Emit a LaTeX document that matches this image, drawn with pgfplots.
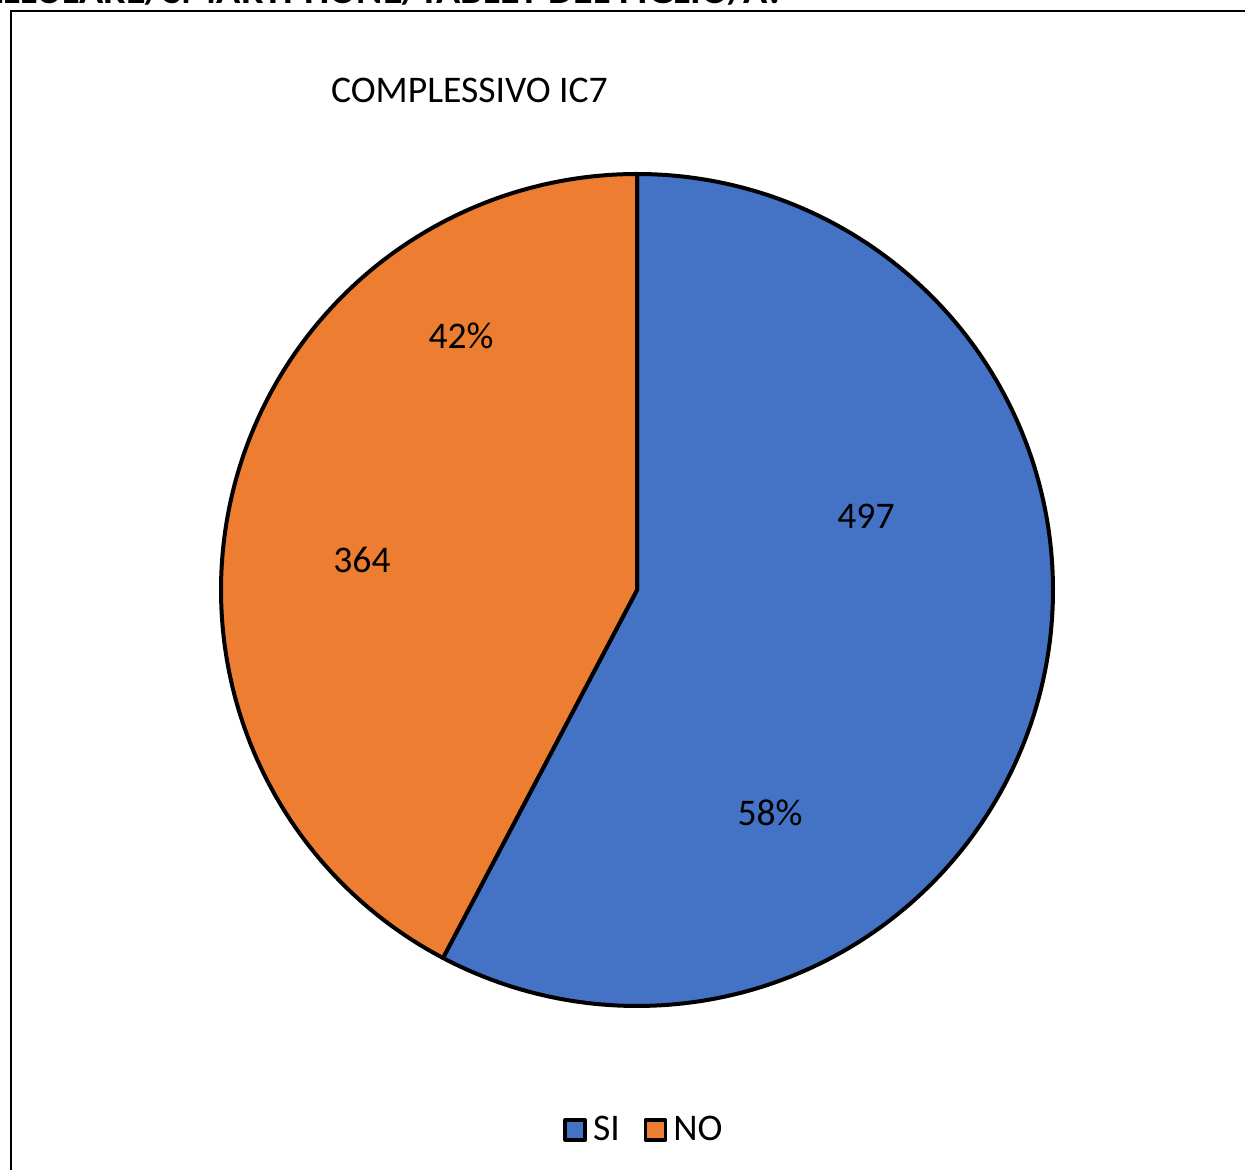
\documentclass[border=0pt]{standalone}
\usepackage{fontspec}
\setmainfont{Carlito}
\usepackage{pgfplots}
\usepackage{pgfplotstable}
\pgfplotsset{compat=1.18}
\definecolor{siblue}{HTML}{4472C4}
\definecolor{noorange}{HTML}{ED7D31}
\pgfplotstableread{
label value
SI 497
NO 364
}\piedata
\pgfplotstablegetelem{0}{value}\of\piedata \let\vSI\pgfplotsretval
\pgfplotstablegetelem{1}{value}\of\piedata \let\vNO\pgfplotsretval
\pgfmathsetmacro{\fracSI}{\vSI/(\vSI+\vNO)}
\pgfmathsetmacro{\angSI}{90-360*\fracSI}
\pgfmathsetmacro{\angEnd}{-270}
\begin{document}
\begin{tikzpicture}
\useasboundingbox (0,0) rectangle (622.5pt,585pt);
\clip (0,0) rectangle (622.5pt,585pt);
\begin{axis}[
  at={(0,0)}, anchor=south west,
  scale only axis, width=622.5pt, height=585pt,
  xmin=0, xmax=1245, ymin=0, ymax=1170,
  axis lines=none, clip=false,
  legend style={at={(axis cs:645,40)}, anchor=center, draw=none, fill=none,
    font=\fontsize{18.8pt}{22pt}\selectfont, legend columns=2,
    /tikz/every odd column/.append style={column sep=1pt},
    /tikz/every even column/.append style={column sep=10pt}},
  legend image code/.code={\draw[#1, line width=1.8pt] (0pt,-5pt) rectangle (10pt,5pt);},
]
\addplot[fill=siblue, draw=black, line width=2pt, line join=round, domain=\angSI:90, samples=200, variable=\t]
  ({637+416*cos(\t)},{580+416*sin(\t)}) -- (axis cs:637,580) -- cycle;
\addlegendentry{SI}
\addplot[fill=noorange, draw=black, line width=2pt, line join=round, domain=\angEnd:\angSI, samples=200, variable=\t]
  ({637+416*cos(\t)},{580+416*sin(\t)}) -- (axis cs:637,580) -- cycle;
\addlegendentry{NO}
\begin{scope}[font=\fontsize{18.8pt}{22pt}\selectfont]
\node at (axis cs:866,654) {497};
\node at (axis cs:770,357) {58\%};
\node at (axis cs:362,610) {364};
\node at (axis cs:461,834) {42\%};
\node[anchor=base west] at (axis cs:324,1067) {COMPLESSIVO IC7};
\end{scope}
\draw[line width=1pt] (axis cs:11,-30) -- (axis cs:11,1159) -- (axis cs:1290,1159);
\node[anchor=base east, font=\bfseries\fontsize{20pt}{24pt}\selectfont, inner sep=0pt] at (axis cs:785,1166) {POSSIEDE UN CELLULARE/SMARTPHONE/TABLET DEL FIGLIO/A?};
\end{axis}
\end{tikzpicture}
\end{document}
